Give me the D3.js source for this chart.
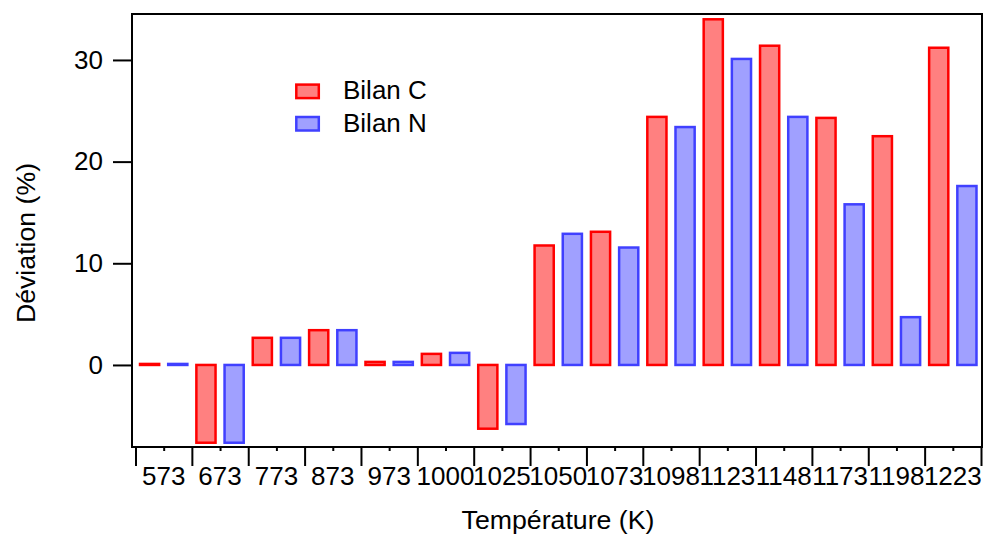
<!DOCTYPE html>
<html>
<head>
<meta charset="utf-8">
<script src="https://cdn.jsdelivr.net/npm/d3@7"></script>
<style>
  html, body { margin: 0; padding: 0; background: #fff; }
  svg { display: block; }
  text { font-family: "Liberation Sans", Arial, Helvetica, sans-serif; fill: #000; }
</style>
</head>
<body>
<svg id="chart" width="984" height="535"></svg>
<script>
const categories = ["573","673","773","873","973","1000","1025","1050","1073","1098","1123","1148","1173","1198","1223"];
const bilanC = [0.1, -7.65, 2.67, 3.42, 0.3, 1.09, -6.27, 11.75, 13.1, 24.4, 34.0, 31.4, 24.3, 22.5, 31.2];
const bilanN = [0.1, -7.65, 2.67, 3.42, 0.3, 1.19, -5.81, 12.9, 11.55, 23.4, 30.1, 24.4, 15.8, 4.7, 17.6];
const seriesNames = ["Bilan C", "Bilan N"];
const yTicks = [0, 10, 20, 30];
const xTitle = "Température (K)";
const yTitle = "Déviation (%)";

const svg = d3.select("#chart");
const frame = {left: 132, right: 982, top: 14, bottom: 447};
const bandStart = 135.5, bandEnd = 981;
const tickFont = 26;
const titleFont = 26.7;

const colors = [
  {stroke: "#ff0000", fill: "#ff8080"},
  {stroke: "#4040ff", fill: "#a0a0ff"}
];

const y = d3.scaleLinear().domain([-8.07, 34.52]).range([frame.bottom, frame.top]);
const x0 = d3.scaleBand().domain(categories).range([bandStart, bandEnd]).padding(0);
const x1 = d3.scaleBand().domain(seriesNames).range([0, x0.bandwidth()]).padding(0);
const xi = d3.scaleLinear().domain([0, categories.length]).range([bandStart, bandEnd]);

const strokeW = 2.5;
const barW = x1.bandwidth() * 0.68;

const data = categories.map((c, i) => ({cat: c, vals: [bilanC[i], bilanN[i]]}));

const g = svg.append("g");
const groups = g.selectAll("g.cat").data(data).join("g")
  .attr("transform", d => `translate(${x0(d.cat)},0)`);

groups.selectAll("rect").data(d => d.vals.map((v, k) => ({v, k}))).join("rect")
  .attr("x", d => x1(seriesNames[d.k]) + (x1.bandwidth() - barW) / 2)
  .attr("width", barW)
  .attr("y", d => y(Math.max(0, d.v)))
  .attr("height", d => Math.abs(y(d.v) - y(0)))
  .attr("fill", d => colors[d.k].fill)
  .attr("stroke", d => colors[d.k].stroke)
  .attr("stroke-width", strokeW);

// Y axis
const yAxis = svg.append("g")
  .attr("transform", `translate(${frame.left},0)`)
  .call(d3.axisLeft(y).tickValues(yTicks).tickSize(19).tickPadding(10).tickFormat(d3.format("d")));
yAxis.select(".domain").remove();
yAxis.selectAll(".tick line").attr("stroke", "#000").attr("stroke-width", 2);
yAxis.selectAll(".tick text").attr("font-size", tickFont).style("font-family", '"Liberation Sans", Arial, sans-serif');

// X axis: major ticks at band edges
const xMajor = svg.append("g")
  .attr("transform", `translate(0,${frame.bottom})`)
  .call(d3.axisBottom(xi).tickValues(d3.range(categories.length + 1)).tickSize(19).tickFormat(""));
xMajor.select(".domain").remove();
xMajor.selectAll(".tick line").attr("stroke", "#000").attr("stroke-width", 2);

// minor ticks at band centers
const xMinor = svg.append("g")
  .attr("transform", `translate(0,${frame.bottom})`)
  .call(d3.axisBottom(xi).tickValues(d3.range(categories.length).map(i => i + 0.5)).tickSize(4).tickFormat(""));
xMinor.select(".domain").remove();
xMinor.selectAll(".tick line").attr("stroke", "#000").attr("stroke-width", 2);

// labels
const xLab = svg.append("g")
  .attr("transform", `translate(0,${frame.bottom})`)
  .call(d3.axisBottom(x0).tickSize(0).tickPadding(19.5));
xLab.select(".domain").remove();
xLab.selectAll(".tick text").attr("font-size", tickFont).style("font-family", '"Liberation Sans", Arial, sans-serif');

// frame
svg.append("rect")
  .attr("x", frame.left).attr("y", frame.top)
  .attr("width", frame.right - frame.left).attr("height", frame.bottom - frame.top)
  .attr("fill", "none").attr("stroke", "#000").attr("stroke-width", 2);

// titles
svg.append("text")
  .attr("x", (frame.left + frame.right) / 2 + 1)
  .attr("y", 528.5)
  .attr("text-anchor", "middle")
  .attr("font-size", titleFont)
  .text(xTitle);

svg.append("text")
  .attr("transform", "translate(34.5,243) rotate(-90)")
  .attr("text-anchor", "middle")
  .attr("font-size", titleFont)
  .text(yTitle);

// legend
const legend = svg.append("g");
seriesNames.forEach((name, k) => {
  const base = 99.3 + k * 32.4;
  legend.append("rect")
    .attr("x", 296.3).attr("y", base - 14.7)
    .attr("width", 22.5).attr("height", 13.5)
    .attr("fill", colors[k].fill)
    .attr("stroke", colors[k].stroke)
    .attr("stroke-width", strokeW);
  legend.append("text")
    .attr("x", 343).attr("y", base)
    .attr("font-size", tickFont)
    .text(name);
});
</script>
</body>
</html>
